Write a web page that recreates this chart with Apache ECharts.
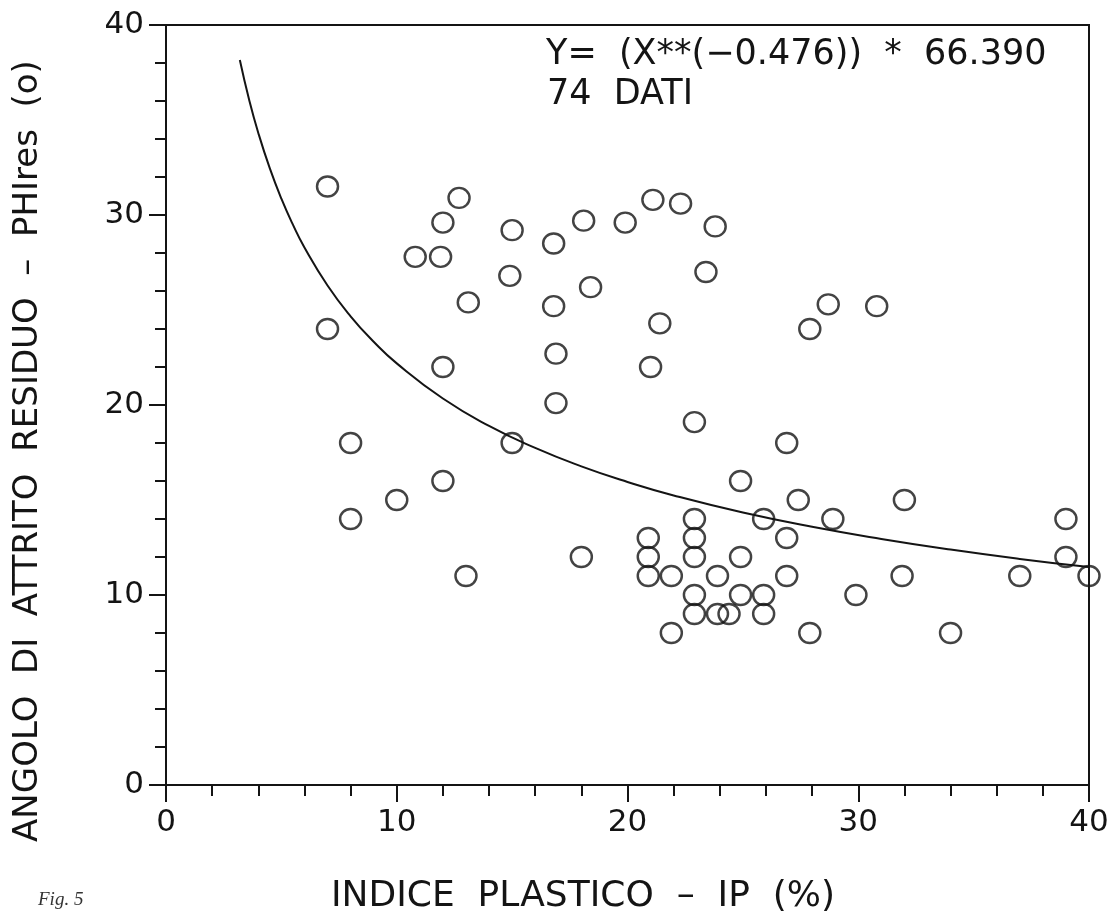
<!DOCTYPE html>
<html>
<head>
<meta charset="utf-8">
<script src="https://cdn.jsdelivr.net/npm/echarts@6/dist/echarts.min.js"></script>
<style>
html,body{margin:0;padding:0;background:#fff;}
#chart{width:1113px;height:915px;}
</style>
</head>
<body>
<div id="chart"></div>
<script>
// Indice plastico IP (%)
const ipValues = [
  7.0, 7.0, 12.7, 12.0, 10.8, 11.9, 15.0, 16.8, 18.1, 19.9, 14.9, 13.1, 18.4, 16.8, 16.9, 12.0, 16.9,
  21.1, 22.3, 23.8, 23.4, 21.4, 21.0, 28.7, 27.9, 30.8, 22.9,
  8.0, 8.0, 10.0, 12.0, 13.0, 15.0, 18.0,
  26.9, 24.9, 27.4, 32.0, 39.0, 22.9, 25.9, 28.9, 20.9, 22.9, 26.9, 20.9, 22.9, 24.9, 39.0,
  20.9, 21.9, 23.9, 26.9, 31.9, 37.0, 40.0, 22.9, 24.9, 25.9, 29.9, 22.9, 23.9, 24.4, 25.9,
  21.9, 27.9, 34.0
];
// Angolo di attrito residuo PHIres (°)
const phiValues = [
  31.5, 24.0, 30.9, 29.6, 27.8, 27.8, 29.2, 28.5, 29.7, 29.6, 26.8, 25.4, 26.2, 25.2, 22.7, 22.0, 20.1,
  30.8, 30.6, 29.4, 27.0, 24.3, 22.0, 25.3, 24.0, 25.2, 19.1,
  18.0, 14.0, 15.0, 16.0, 11.0, 18.0, 12.0,
  18.0, 16.0, 15.0, 15.0, 14.0, 14.0, 14.0, 14.0, 13.0, 13.0, 13.0, 12.0, 12.0, 12.0, 12.0,
  11.0, 11.0, 11.0, 11.0, 11.0, 11.0, 11.0, 10.0, 10.0, 10.0, 10.0, 9.0, 9.0, 9.0, 9.0,
  8.0, 8.0, 8.0
];
// Fitted curve Y = X^(-0.476) * 66.390
const curveX = [3.2, 3.6, 4, 4.5, 5, 5.5, 6, 7, 8, 9, 10, 12, 14, 16, 18, 20, 22, 25, 28, 31, 34, 37, 40];
const curveY = [38.16, 36.08, 34.32, 32.45, 30.86, 29.49, 28.29, 26.29, 24.67, 23.33, 22.19, 20.34, 18.90, 17.74, 16.77, 15.95, 15.24, 14.34, 13.59, 12.95, 12.39, 11.90, 11.47];
const xTicks = [0, 10, 20, 30, 40];
const yTicks = [0, 10, 20, 30, 40];
const xTitle = 'INDICE  PLASTICO  –  IP  (%)';
const yTitle = 'ANGOLO  DI  ATTRITO  RESIDUO  –  PHIres  (o)';
const equationLines = ['Y=  (X**(−0.476))  *  66.390', '74  DATI'];
const figLabel = 'Fig. 5';

const ink = '#141414';
const font = 'DejaVu Sans';

const scatterData = ipValues.map((x, i) => [x, phiValues[i]]);
const curveData = curveX.map((x, i) => [x, curveY[i]]);

const axisCommon = (ticks) => ({
  type: 'value',
  min: ticks[0],
  max: ticks[ticks.length - 1],
  interval: ticks[1] - ticks[0],
  axisLine: { show: true, onZero: false, lineStyle: { color: ink, width: 2 } },
  axisTick: { show: true, inside: false, length: 17, lineStyle: { color: ink, width: 2 } },
  minorTick: { show: true, splitNumber: 5, length: 11, lineStyle: { color: ink, width: 2 } },
  splitLine: { show: false },
  minorSplitLine: { show: false },
  axisLabel: { color: ink, fontFamily: font, fontSize: 31, margin: 22 }
});

const chart = echarts.init(document.getElementById('chart'), null, { renderer: 'canvas' });
chart.setOption({
  backgroundColor: '#ffffff',
  animation: false,
  grid: {
    left: 166, right: 24, top: 25, bottom: 130,
    show: true, borderColor: ink, borderWidth: 2, backgroundColor: 'transparent'
  },
  xAxis: axisCommon(xTicks),
  yAxis: axisCommon(yTicks),
  series: [
    {
      type: 'line',
      data: curveData,
      smooth: true,
      symbol: 'none',
      clip: false,
      lineStyle: { color: ink, width: 2 },
      z: 2
    },
    {
      type: 'scatter',
      data: scatterData,
      symbol: 'circle',
      symbolSize: [21, 20],
      clip: false,
      itemStyle: { color: 'rgba(0,0,0,0)', borderColor: ink, borderWidth: 2.4 },
      z: 3
    }
  ],
  graphic: [
    {
      type: 'text', left: 546, top: 37,
      style: { text: equationLines[0], font: '35px "' + font + '"', fill: ink }
    },
    {
      type: 'text', left: 547, top: 77,
      style: { text: equationLines[1], font: '35px "' + font + '"', fill: ink }
    },
    {
      type: 'text', x: 583, y: 897,
      style: { text: xTitle, font: '36px "' + font + '"', fill: ink, align: 'center', verticalAlign: 'middle' }
    },
    {
      type: 'text', x: 28, y: 451, rotation: Math.PI / 2,
      style: { text: yTitle, font: '34px "' + font + '"', fill: ink, align: 'center', verticalAlign: 'middle' }
    },
    {
      type: 'text', left: 38, top: 890,
      style: { text: figLabel, font: 'italic 19px "Liberation Serif"', fill: '#333' }
    }
  ]
});
</script>
</body>
</html>
